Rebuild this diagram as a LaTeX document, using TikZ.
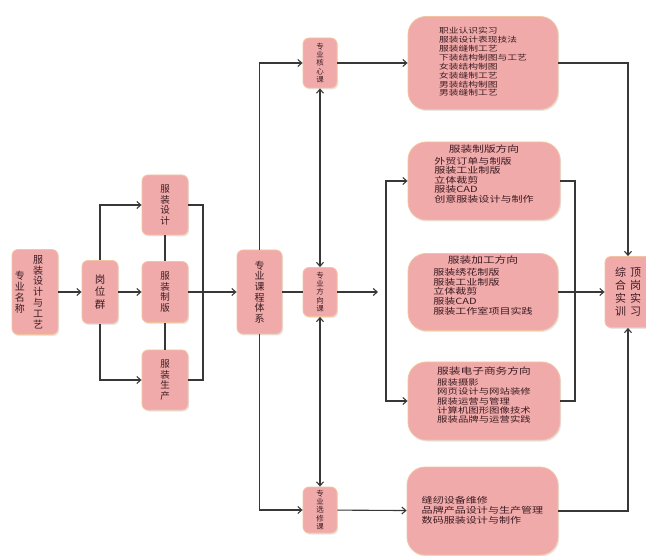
\documentclass[tikz,border=0pt]{standalone}
\usepackage{fontspec}
\setmainfont{Noto Sans CJK SC}
\newfontfamily\cjkw[FakeStretch=1.3]{Noto Sans CJK SC}
\usetikzlibrary{arrows.meta,shadows}
\definecolor{boxpink}{RGB}{240,170,170}
\definecolor{boxedge}{RGB}{242,196,160}
\definecolor{linegray}{RGB}{55,55,55}
\definecolor{txt}{RGB}{60,28,34}

\begin{document}
\begin{tikzpicture}[x=1pt,y=-1pt]
        \tikzstyle{b} = [draw=boxedge, line width=0.8pt, fill=boxpink, rounded corners=6pt, drop shadow={opacity=0.2,shadow xshift=1.2pt,shadow yshift=-1.5pt}, text=txt, align=center, inner sep=0pt]
        \tikzstyle{bb} = [b, rounded corners=18pt]
        \tikzstyle{e} = [draw=linegray, line width=1.1pt]
        \tikzstyle{a} = [e, -{Straight Barb[length=4pt,width=7pt]}]
        \tikzstyle{aa} = [e, {Straight Barb[length=4pt,width=7pt]}-{Straight Barb[length=4pt,width=7pt]}]
        \useasboundingbox (0,0) rectangle (646,556);

        % left part
        \node[b, minimum width=46pt, minimum height=85pt, font=\fontsize{10}{10.8}\selectfont](m) at (35,292){\parbox[c]{10pt}{\centering 专\\业\\名\\称}\hspace{8pt}\parbox[c]{10pt}{\centering 服\\装\\设\\计\\与\\工\\艺}\hspace{12pt}};
        \node[b, minimum width=36pt, minimum height=63pt, font=\fontsize{10.5}{12.5}\selectfont](g) at (100,292){岗\\位\\群};
        \node[b, minimum width=46pt, minimum height=60pt, font=\fontsize{9.5}{10.5}\selectfont](d1) at (165,205){服\\装\\设\\计};
        \node[b, minimum width=46pt, minimum height=61pt, font=\fontsize{9.5}{10.5}\selectfont](d2) at (165,292){服\\装\\制\\版};
        \node[b, minimum width=46pt, minimum height=60pt, font=\fontsize{9.5}{10.5}\selectfont](d3) at (165,380){服\\装\\生\\产};
        \node[b, minimum width=45pt, minimum height=84pt, font=\fontsize{10}{10.7}\selectfont](s) at (259.5,292){专\\业\\课\\程\\体\\系};

        % course types
        \node[b, minimum width=34pt, minimum height=50pt, font=\fontsize{7.5}{8.3}\selectfont](k1) at (320,63){专\\业\\核\\心\\课};
        \node[b, minimum width=34pt, minimum height=49pt, font=\fontsize{7.5}{8.3}\selectfont](k2) at (320,292){专\\业\\方\\向\\课};
        \node[b, minimum width=34pt, minimum height=46pt, font=\fontsize{7.5}{8.3}\selectfont](k3) at (320,510){专\\业\\选\\修\\课};

        % course lists
        \node[bb, minimum width=150pt, minimum height=93pt, font=\cjkw\fontsize{7.5}{8.5}\selectfont](c1) at (483,63){\begin{tabular}{@{}l@{}}职业认识实习\\服装设计表现技法\\服装缝制工艺\\下装结构制图与工艺\\女装结构制图\\女装缝制工艺\\男装结构制图\\男装缝制工艺\end{tabular}};
        \node[bb, minimum width=152pt, minimum height=78pt, font=\cjkw\fontsize{8.5}{8}\selectfont](c2) at (484,181){\begin{tabular}{@{}l@{}}\multicolumn{1}{@{}c@{}}{\fontsize{9}{10}\selectfont 服装制版方向}\\[2pt]外贸订单与制版\\服装工业制版\\立体裁剪\\服装CAD\\创意服装设计与制作\\[12pt]\end{tabular}};
        \node[bb, minimum width=150pt, minimum height=77pt, font=\cjkw\fontsize{8.5}{8.2}\selectfont](c3) at (483,292){\begin{tabular}{@{}l@{}}\multicolumn{1}{@{}c@{}}{\fontsize{9}{10}\selectfont 服装加工方向}\\[2pt]服装绣花制版\\服装工业制版\\立体裁剪\\服装CAD\\服装工作室项目实践\\[11pt]\end{tabular}};
        \node[bb, minimum width=152pt, minimum height=78pt, font=\cjkw\fontsize{8}{8.2}\selectfont](c4) at (484,401){\begin{tabular}{@{}l@{}}\multicolumn{1}{@{}c@{}}{\fontsize{9}{10}\selectfont 服装电子商务方向}\\[2pt]服装摄影\\网页设计与网站装修\\服装运营与管理\\计算机图形图像技术\\服装品牌与运营实践\\[10pt]\end{tabular}};
        \node[bb, minimum width=151pt, minimum height=88pt, font=\cjkw\fontsize{8.5}{9.5}\selectfont](c5) at (482.5,511){\begin{tabular}{@{}l@{}}缝纫设备维修\\品牌产品设计与生产管理\\数码服装设计与制作\end{tabular}};

        \node[b, minimum width=46pt, minimum height=71pt, font=\fontsize{11}{13}\selectfont](f) at (628,292){\parbox[c]{11pt}{\centering 综\\合\\实\\训}\hspace{4pt}\parbox[c]{11pt}{\centering 顶\\岗\\实\\习}};

        \coordinate (r) at (203,292);
        \coordinate (j) at (386,292);
        \coordinate (q) at (575,292);

        \draw[a](m)--(g);
        \draw[a](g.north) |- (d1.west);
        \draw[a](g)--(d2);
        \draw[a](g.south) |- (d3.west);
        \draw[e](d1)--(d2);
        \draw[e](d2)--(d3);
        \draw[e](d1.east) -| (r) |- (d3.east);
        \draw[a](d2)--(s);

        \draw[a](s.north) |- (k1.west);
        \draw[e](s)--(k2);
        \draw[a](s.south) |- (k3.west);
        \draw[aa](k1)--(k2);
        \draw[aa](k2)--(k3);

        \draw[a](k1)--(c1);
        \draw[a, shorten >=8pt](k2)--(j);
        \draw[a](j) |- (c2.west);
        \draw[a](j) |- (c4.west);
        \draw[a](k3)--(c5);

        \draw[a](c1.east) -| (f.north);
        \draw[e](c2.east) -| (q) |- (c4.east);
        \draw[a](c3)--(f);
        \draw[a](c5.east) -| (f.south);
\end{tikzpicture}
\end{document}
